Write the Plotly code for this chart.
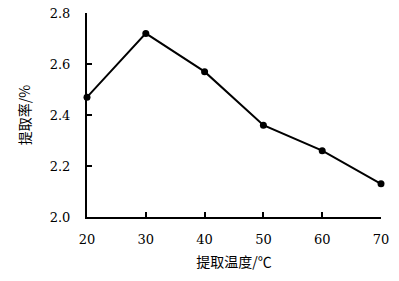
import plotly.graph_objects as go

temps = [20, 30, 40, 50, 60, 70]
rates = [2.47, 2.72, 2.57, 2.36, 2.26, 2.13]
x_ticks = [20, 30, 40, 50, 60, 70]
y_ticks = [2.0, 2.2, 2.4, 2.6, 2.8]
y_tick_text = ["2.0", "2.2", "2.4", "2.6", "2.8"]

fig = go.Figure(go.Scatter(
    x=temps, y=rates, mode="lines+markers",
    line=dict(color="black", width=2),
    marker=dict(color="black", size=7),
    cliponaxis=False,
))

serif = "DejaVu Serif"
cjk = "Noto Sans CJK SC"

fig.update_layout(
    width=399, height=281,
    margin=dict(l=87, r=18, t=13, b=64, autoexpand=False),
    paper_bgcolor="white", plot_bgcolor="white",
    showlegend=False,
    font=dict(family=serif, size=13, color="black"),
)
fig.update_xaxes(
    range=[20, 70], tickvals=x_ticks, ticks="inside", ticklen=5, tickwidth=1.5,
    tickcolor="black", showline=True, linecolor="black", linewidth=2,
    showgrid=False, zeroline=False, ticklabelstandoff=9, automargin=False,
    tickfont=dict(family=serif, size=13, color="black"),
    title=dict(text="提取温度/℃", font=dict(family=cjk, size=14, color="black"), standoff=12),
)
fig.update_yaxes(
    range=[2.0, 2.8], tickvals=y_ticks, ticktext=y_tick_text, ticks="inside",
    ticklen=5, tickwidth=1.5, tickcolor="black", showline=True, linecolor="black",
    linewidth=2, showgrid=False, zeroline=False, ticklabelstandoff=12, automargin=False,
    tickfont=dict(family=serif, size=13, color="black"),
    title=dict(text="提取率/%", font=dict(family=cjk, size=14, color="black"), standoff=16),
)

fig.write_html("out.html", config={"displayModeBar": False},
               post_script="document.body.style.margin='0';")
